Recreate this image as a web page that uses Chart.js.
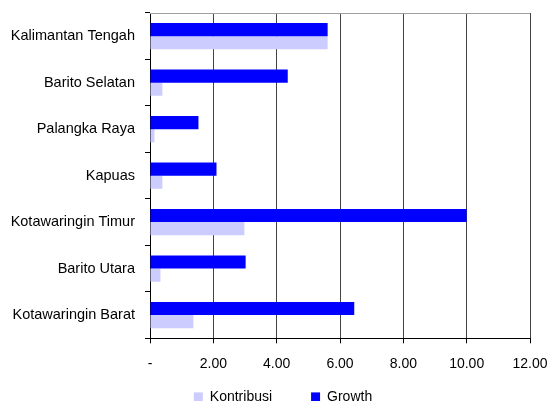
<!DOCTYPE html>
<html>
<head>
<meta charset="utf-8">
<script src="https://cdn.jsdelivr.net/npm/chart.js@4.4.0/dist/chart.umd.min.js"></script>
<style>
  body { margin: 0; background: #fff; }
</style>
</head>
<body>
<canvas id="regionChart" width="548" height="401"></canvas>
<script>
// categories, top to bottom
const regions = ['Kalimantan Tengah', 'Barito Selatan', 'Palangka Raya', 'Kapuas',
  'Kotawaringin Timur', 'Barito Utara', 'Kotawaringin Barat'];
const kontribusi = [5.61, 0.39, 0.14, 0.39, 2.98, 0.33, 1.37];
const growth = [5.61, 4.35, 1.53, 2.10, 10.00, 3.02, 6.45];
const xTickLabels = ['-', '2.00', '4.00', '6.00', '8.00', '10.00', '12.00'];

Chart.defaults.font.family = '"Liberation Sans", Arial, sans-serif';
Chart.defaults.font.size = 14;
Chart.defaults.color = '#000';

// thin line along the top of the plot area
const topLine = {
  id: 'topLine',
  beforeDatasetsDraw(chart) {
    const { ctx, chartArea } = chart;
    ctx.save();
    ctx.strokeStyle = '#a0a0a0';
    ctx.lineWidth = 1;
    ctx.beginPath();
    ctx.moveTo(chartArea.left, Math.round(chartArea.top) + 0.5);
    ctx.lineTo(chartArea.right, Math.round(chartArea.top) + 0.5);
    ctx.stroke();
    ctx.restore();
  }
};

// nudge the legend up into the space under the axis labels
const legendNudge = {
  id: 'legendNudge',
  afterLayout(chart) {
    const lg = chart.legend;
    lg.top -= 21.4;
    lg.bottom -= 21.4;
    lg.left += 18;
    lg.right += 18;
  }
};

const chartCanvas = document.querySelector('#regionChart');

new Chart(chartCanvas, {
  type: 'bar',
  data: {
    labels: regions,
    datasets: [
      {
        label: 'Growth',
        data: growth,
        backgroundColor: '#0000ff',
        categoryPercentage: 0.565,
        barPercentage: 1
      },
      {
        label: 'Kontribusi',
        data: kontribusi,
        backgroundColor: '#ccccff',
        categoryPercentage: 0.565,
        barPercentage: 1
      }
    ]
  },
  options: {
    indexAxis: 'y',
    responsive: false,
    devicePixelRatio: 1,
    animation: false,
    layout: {
      padding: { top: 13, right: 18, left: 0, bottom: -34.3 }
    },
    scales: {
      x: {
        min: 0,
        max: 12,
        ticks: {
          stepSize: 2,
          padding: 12.5,
          maxRotation: 0,
          autoSkip: false,
          callback: (value, index) => xTickLabels[index]
        },
        grid: {
          color: '#444',
          tickColor: '#000',
          tickLength: 5
        },
        border: { color: '#000' },
        afterFit: (scale) => {
          scale.height = 34;
          scale.paddingLeft = 0;
          scale.paddingRight = 0;
        }
      },
      y: {
        ticks: { padding: 10, font: { size: 14.5 } },
        grid: {
          drawOnChartArea: false,
          tickColor: '#000',
          tickLength: 5
        },
        border: { color: '#000' },
        afterFit: (scale) => {
          scale.width = 150;
          scale.paddingTop = 0;
          scale.paddingBottom = 0;
        }
      }
    },
    plugins: {
      legend: {
        position: 'bottom',
        reverse: true,
        labels: {
          boxWidth: 9,
          boxHeight: 9,
          padding: 39,
          color: '#000'
        }
      },
      tooltip: { enabled: false }
    }
  },
  plugins: [topLine, legendNudge]
});
</script>
</body>
</html>
